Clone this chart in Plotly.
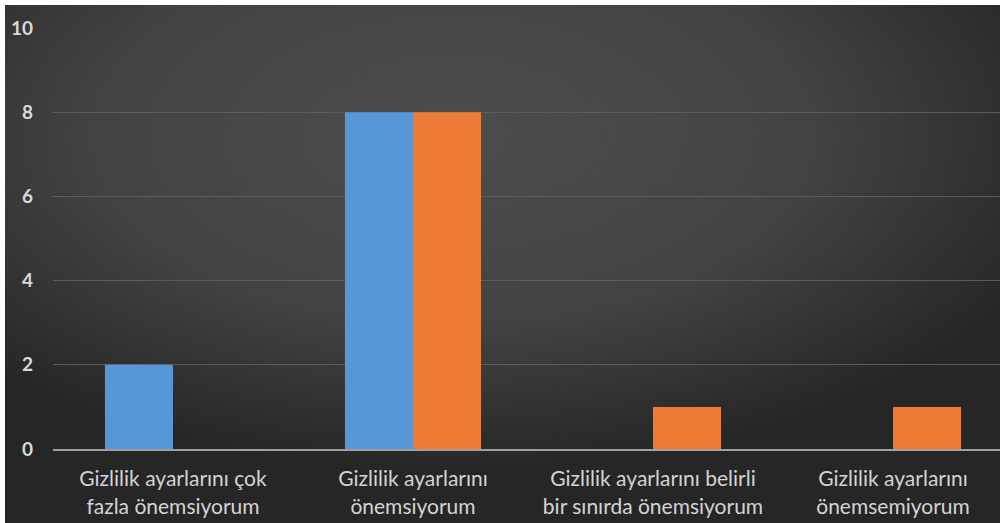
import base64
import plotly.graph_objects as go

categories = [
    "Gizlilik ayarlarını çok<br>fazla önemsiyorum",
    "Gizlilik ayarlarını<br>önemsiyorum",
    "Gizlilik ayarlarını belirli<br>bir sınırda önemsiyorum",
    "Gizlilik ayarlarını<br>önemsemiyorum",
]
series_blue = [2, 8, 0, 0]
series_orange = [0, 8, 1, 1]
y_ticks = [0, 2, 4, 6, 8, 10]

W, H = 1000, 523
ML, MR, MT, MB = 53, 0, 28, H - 449
pw, ph = W - ML - MR, H - MT - MB

svg = (
    '<svg xmlns="http://www.w3.org/2000/svg" width="995" height="518" '
    'preserveAspectRatio="none" viewBox="0 0 995 518">'
    '<defs><radialGradient id="g" cx="0.45" cy="0.25" r="0.65">'
    '<stop offset="0" stop-color="#4d4d4d"/>'
    '<stop offset="0.55" stop-color="#434343"/>'
    '<stop offset="1" stop-color="#262626"/>'
    '</radialGradient></defs>'
    '<rect width="995" height="518" fill="url(#g)"/></svg>'
)
src = "data:image/svg+xml;base64," + base64.b64encode(svg.encode()).decode()

fig = go.Figure()
fig.add_trace(go.Bar(x=categories, y=series_blue, marker=dict(color="#5797d8", line=dict(width=0))))
fig.add_trace(go.Bar(x=categories, y=series_orange, marker=dict(color="#ee7b35", line=dict(width=0))))

img_x0, img_y0 = 5, 5
fig.add_layout_image(
    source=src, xref="paper", yref="paper",
    x=(img_x0 - ML) / pw, y=(H - MB - img_y0) / ph,
    sizex=(W - img_x0) / pw, sizey=(H - img_y0) / ph,
    xanchor="left", yanchor="top", sizing="stretch", layer="below",
)

fig.update_layout(
    width=W, height=H,
    margin=dict(l=ML, r=MR, t=MT, b=MB, pad=0),
    paper_bgcolor="white",
    plot_bgcolor="rgba(0,0,0,0)",
    barmode="group",
    bargap=0.433,
    bargroupgap=0,
    showlegend=False,
    font=dict(family="Lato", color="#d9d9d9"),
)
fig.update_xaxes(
    range=[-0.5, -0.5 + pw / 240],
    showgrid=False, showline=True, linecolor="#a0a0a0", linewidth=2,
    ticks="", ticklabelstandoff=10,
    tickfont=dict(size=21, color="#d4d4d4", family="Lato"),
    fixedrange=True,
)
fig.update_yaxes(
    range=[0, 10], tickvals=y_ticks,
    showgrid=True, gridcolor="#5c5c5c", gridwidth=1,
    zeroline=False, showline=False, ticks="",
    ticklabelstandoff=19,
    tickfont=dict(size=19, color="#d9d9d9", family="Lato", weight="bold"),
    fixedrange=True,
)

fig.write_html(
    "out.html",
    config={"displayModeBar": False},
    post_script="document.body.style.margin='0';document.body.style.overflow='hidden';",
)
